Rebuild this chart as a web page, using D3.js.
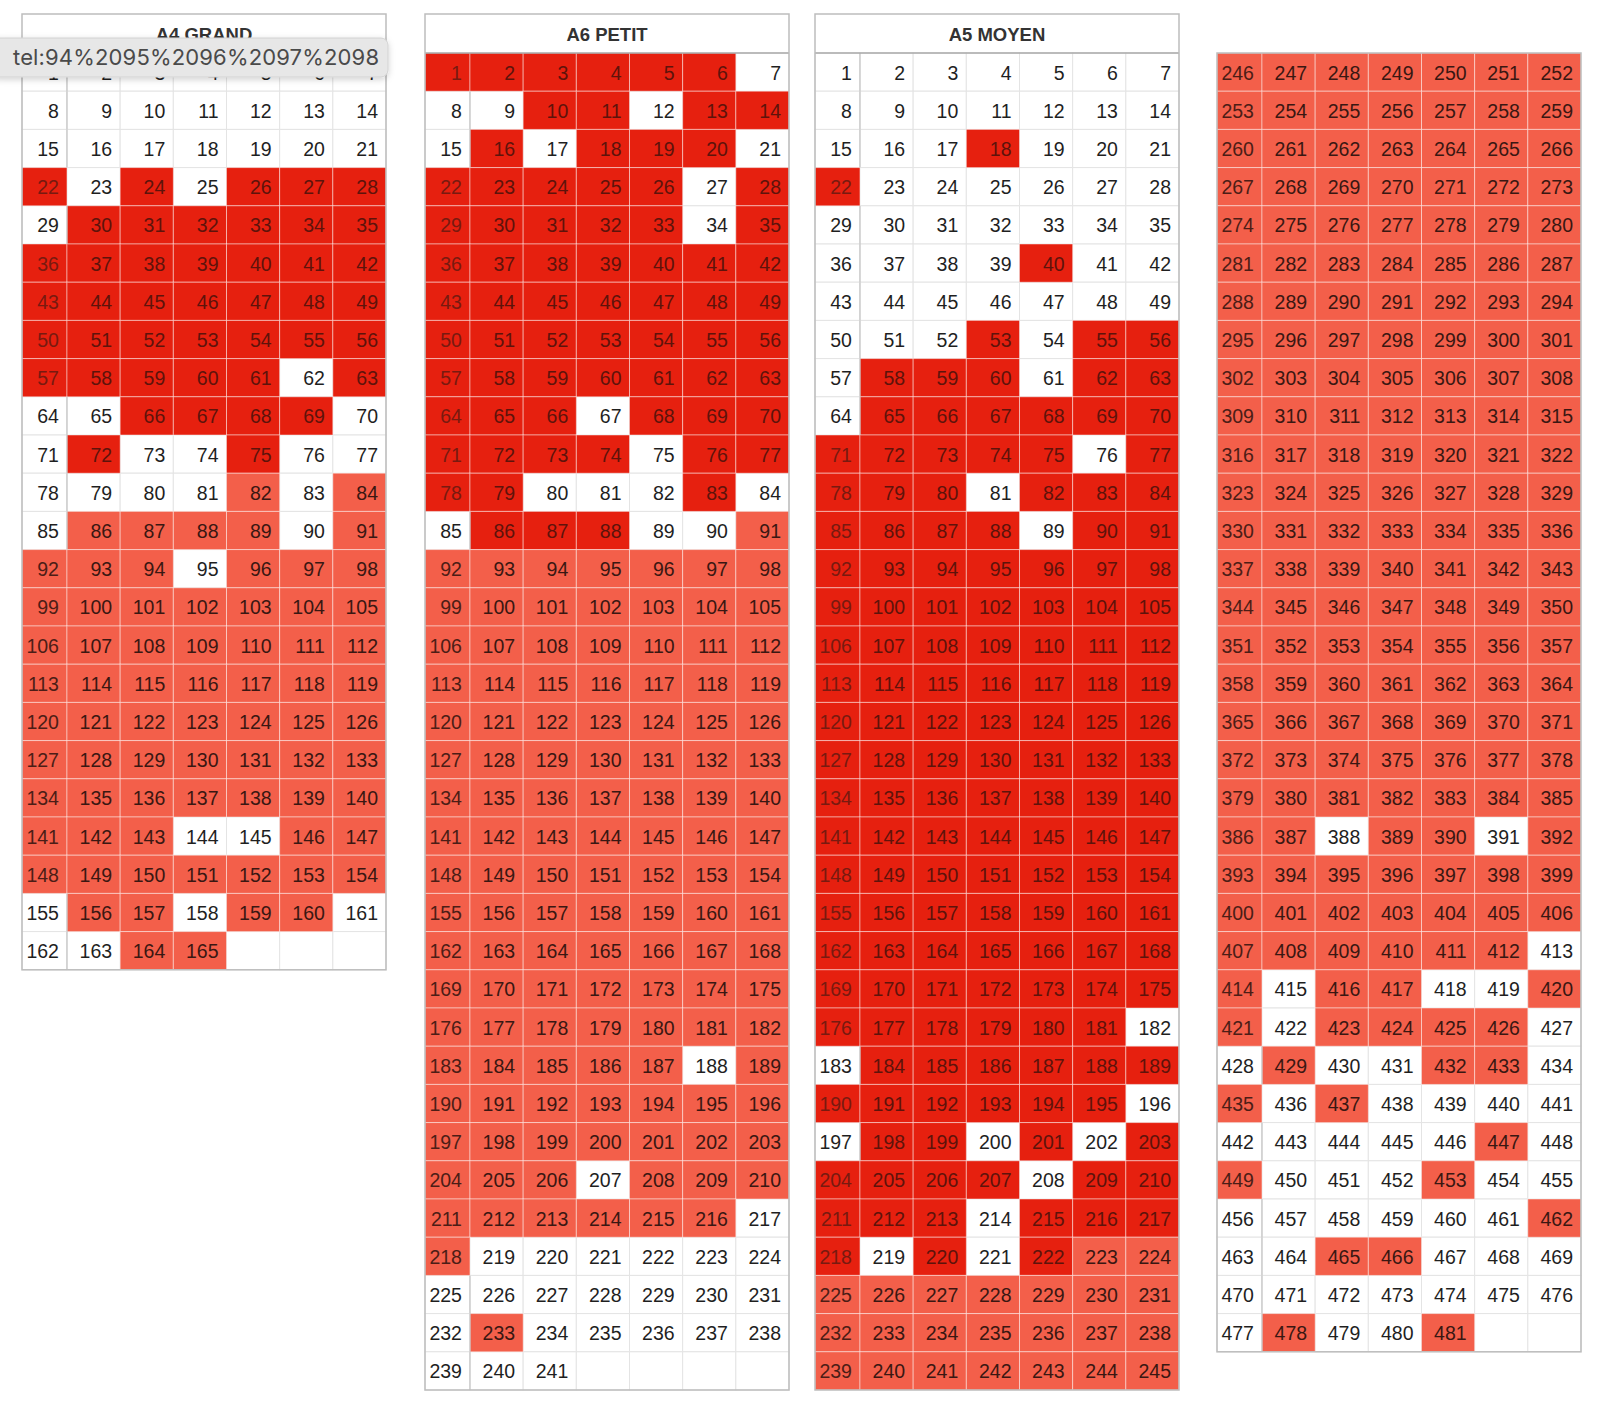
<!DOCTYPE html>
<html>
<head>
    <meta charset="utf-8">
    <title>A4 GRAND / A6 PETIT / A5 MOYEN</title>
    <script src="https://d3js.org/d3.v7.min.js"></script>
    <style>
        body { margin: 0; background: #fff; }
        svg { display: block; font-family: "Liberation Sans", Arial, sans-serif; }
    </style>
</head>
<body>
<svg id="grid" width="1600" height="1404"></svg>

<script>
    // états des cases, 7 par ligne : w = libre, d = rouge foncé, l = rouge clair
    var a4States = [
        "wwwwwww", "wwwwwww", "wwwwwww", "dwdwddd", "wdddddd", "ddddddd",
        "ddddddd", "ddddddd", "dddddwd", "wwddddw", "wdwwdww", "wwwwlwl",
        "wllllwl", "lllwlll", "lllllll", "lllllll", "lllllll", "lllllll",
        "lllllll", "lllllll", "lllwwll", "lllllll", "wllwllw", "wwll"
    ];
    var a6States = [
        "ddddddw", "wwddwdd", "wdwdddw", "dddddwd", "dddddwd", "ddddddd",
        "ddddddd", "ddddddd", "ddddddd", "dddwddd", "ddddwdd", "ddwwwdw",
        "wdddwwl", "lllllll", "lllllll", "lllllll", "lllllll", "lllllll",
        "lllllll", "lllllll", "lllllll", "lllllll", "lllllll", "lllllll",
        "lllllll", "lllllll", "lllllwl", "lllllll", "lllllll", "lllwlll",
        "llllllw", "lwwwwww", "wwwwwww", "wlwwwww", "www"
    ];
    var a5States = [
        "wwwwwww", "wwwwwww", "wwwdwww", "dwwwwww", "wwwwwww", "wwwwdww",
        "wwwwwww", "wwwdwdd", "wdddwdd", "wdddddd", "dddddwd", "dddwddd",
        "ddddwdd", "ddddddd", "ddddddd", "ddddddd", "ddddddd", "ddddddd",
        "ddddddd", "ddddddd", "ddddddd", "ddddddd", "ddddddd", "ddddddd",
        "ddddddd", "ddddddw", "wdddddd", "ddddddw", "wddwdwd", "ddddwdd",
        "dddwddd", "dwdwdll", "lllllll", "lllllll", "lllllll"
    ];
    var suiteStates = [
        "lllllll", "lllllll", "lllllll", "lllllll", "lllllll", "lllllll",
        "lllllll", "lllllll", "lllllll", "lllllll", "lllllll", "lllllll",
        "lllllll", "lllllll", "lllllll", "lllllll", "lllllll", "lllllll",
        "lllllll", "lllllll", "llwllwl", "lllllll", "lllllll", "llllllw",
        "lwllwwl", "lwllllw", "wlwwllw", "lwlwwww", "wwwwwlw", "lwwwlww",
        "wwwwwwl", "wwllwww", "wwwwwww", "wlwwl"
    ];

    var titles = ["A4 GRAND", "A6 PETIT", "A5 MOYEN", null];
    var firstNumbers = [1, 1, 1, 246];
    var lastNumbers = [165, 241, 245, 481];
    var tooltipText = "tel:94%2095%2096%2097%2098";

    var fill = { w: "#ffffff", d: "#e6200f", l: "#f35f4a", e: "#ffffff" };
    var ink = { w: "#1f1f1f", d: "#5e130b", l: "#3a1712", e: "#1f1f1f" };
    var inkFirst = { w: "#1f1f1f", d: "#781a10", l: "#4c1d16", e: "#1f1f1f" };

    var svg = d3.select("#grid");
    var tableLefts = [22, 425, 815, 1217];
    var tableWidth = 364;
    var bodyTop = 53, headerTop = 14, rowH = 38.2;
    var colUnits = [45, 53.2, 53.2, 53.2, 53.2, 53.2, 53.2];
    var colEdges = [0].concat(Array.from(d3.cumsum(colUnits)));

    var tables = [a4States, a6States, a5States, suiteStates].map(function(states, i) {
        return { states: states, title: titles[i], start: firstNumbers[i], end: lastNumbers[i], left: tableLefts[i] };
    });

    tables.forEach(function(t) {
        var nRows = t.states.length;
        var x = d3.scaleLinear().domain([0, d3.sum(colUnits)]).range([t.left, t.left + tableWidth]);
        var y = d3.scaleBand().domain(d3.range(nRows)).range([bodyTop, bodyTop + nRows * rowH]);

        var cells = [];
        d3.range(nRows).forEach(function(r) {
            d3.range(7).forEach(function(c) {
                var n = t.start + r * 7 + c;
                var s = n <= t.end ? t.states[r][c] : "e";
                cells.push({ r: r, c: c, n: n, s: s });
            });
        });

        var g = svg.append("g");

        // en-tête
        if (t.title) {
            g.append("rect")
                .attr("x", x(0)).attr("y", headerTop)
                .attr("width", tableWidth).attr("height", bodyTop - headerTop)
                .style("fill", "#fff");
            g.append("text")
                .attr("x", x(0) + tableWidth / 2).attr("y", headerTop + 27)
                .attr("text-anchor", "middle")
                .style("font-size", "18.5px").style("font-weight", "bold")
                .style("fill", "#333")
                .text(t.title);
        }

        // cases libres d'abord (traits gris), puis cases rouges
        var order = cells.slice().sort(function(a, b) {
            return (a.s === "w" || a.s === "e" ? 0 : 1) - (b.s === "w" || b.s === "e" ? 0 : 1);
        });
        g.append("g").selectAll("rect")
            .data(order)
            .enter().append("rect")
            .attr("x", function(d) { return x(colEdges[d.c]); })
            .attr("y", function(d) { return y(d.r); })
            .attr("width", function(d) { return x(colEdges[d.c + 1]) - x(colEdges[d.c]); })
            .attr("height", y.bandwidth())
            .style("fill", function(d) { return fill[d.s]; })
            .style("stroke", function(d) { return d.s === "w" || d.s === "e" ? "#e4e4e4" : "rgba(255,255,255,0.45)"; })
            .style("stroke-width", 1);

        // séparation après la première colonne
        g.append("g").selectAll("line")
            .data(cells.filter(function(d) { return d.c === 0 && d.s === "w"; }))
            .enter().append("line")
            .attr("x1", x(colEdges[1])).attr("x2", x(colEdges[1]))
            .attr("y1", function(d) { return y(d.r); })
            .attr("y2", function(d) { return y(d.r) + y.bandwidth(); })
            .style("stroke", "#c6c6c6").style("stroke-width", 1.2);

        // numéros
        g.append("g").selectAll("text")
            .data(cells.filter(function(d) { return d.s !== "e"; }))
            .enter().append("text")
            .attr("x", function(d) { return x(colEdges[d.c + 1]) - 8; })
            .attr("y", function(d) { return y(d.r) + y.bandwidth() / 2 + 7.5; })
            .attr("text-anchor", "end")
            .style("font-size", "19.5px")
            .style("fill", function(d) { return d.c === 0 ? inkFirst[d.s] : ink[d.s]; })
            .text(function(d) { return d.n; });

        // bordures
        var top = t.title ? headerTop : bodyTop;
        if (t.title) {
            g.append("line")
                .attr("x1", x(0)).attr("x2", x(0) + tableWidth)
                .attr("y1", bodyTop).attr("y2", bodyTop)
                .style("stroke", "#a9a9a9").style("stroke-width", 1.5);
        }
        g.append("rect")
            .attr("x", x(0)).attr("y", top)
            .attr("width", tableWidth).attr("height", bodyTop + nRows * rowH - top)
            .style("fill", "none").style("stroke", "#bdbdbd").style("stroke-width", 1.5);
    });

    // bulle du lien téléphone par-dessus le premier tableau
    var defs = svg.append("defs");
    var shadow = defs.append("filter").attr("id", "ombre").attr("x", "-10%").attr("y", "-40%").attr("width", "120%").attr("height", "180%");
    shadow.append("feDropShadow").attr("dx", 0).attr("dy", 2).attr("stdDeviation", 3).attr("flood-color", "#000").attr("flood-opacity", 0.18);

    var tip = svg.append("g");
    tip.append("rect")
        .attr("x", -8).attr("y", 38)
        .attr("width", 396).attr("height", 39)
        .attr("rx", 7)
        .style("fill", "#e7e7e7").style("stroke", "#d2d2d2")
        .attr("filter", "url(#ombre)");
    tip.append("text")
        .attr("x", 13).attr("y", 65)
        .attr("textLength", 366)
        .style("font-family", "Inter, 'Noto Sans', sans-serif")
        .style("font-size", "22px")
        .style("fill", "#4a4a4a")
        .text(tooltipText);
</script>
</body>
</html>
